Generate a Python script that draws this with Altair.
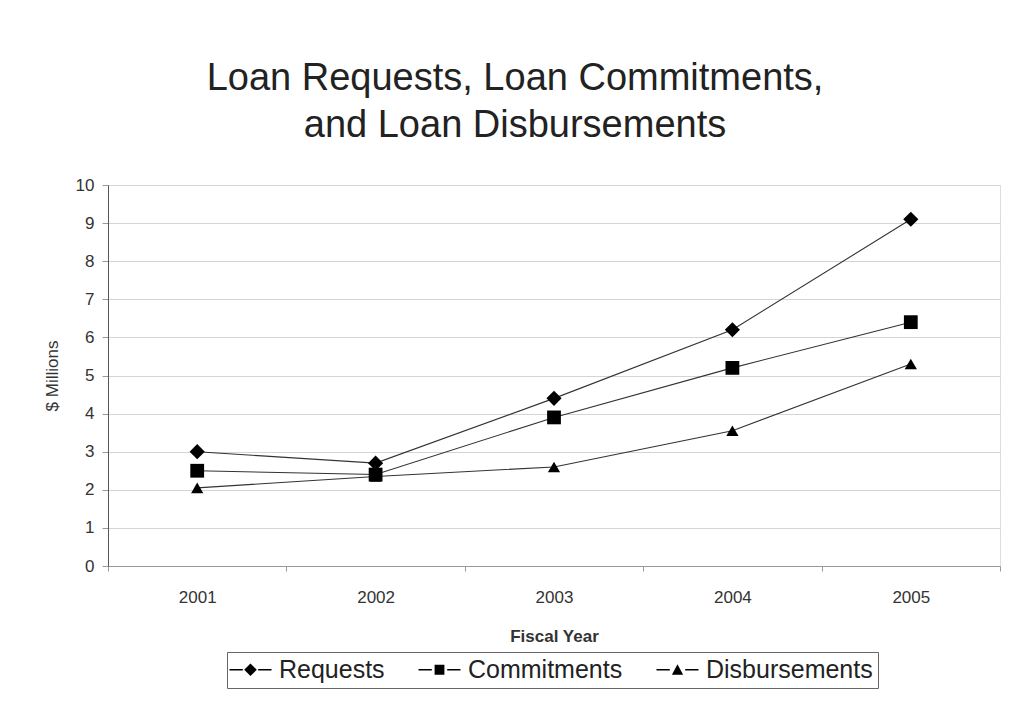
import altair as alt
import pandas as pd

years = ["2001", "2002", "2003", "2004", "2005"]
series_names = ["Requests", "Commitments", "Disbursements"]
requests = [3.0, 2.7, 4.4, 6.2, 9.1]
commitments = [2.5, 2.4, 3.9, 5.2, 6.4]
disbursements = [2.05, 2.35, 2.6, 3.55, 5.3]

rows = []
for name, vals in zip(series_names, [requests, commitments, disbursements]):
    for y, v in zip(years, vals):
        rows.append({"year": y, "series": name, "value": v})
df = pd.DataFrame(rows)

FONT = "Liberation Sans"

# legend symbols: line-marker-line glyphs (dash segments drawn as thin filled bars)
DASHES = "M-3,-0.1L-1.1,-0.1L-1.1,0.1L-3,0.1ZM1.1,-0.1L3,-0.1L3,0.1L1.1,0.1Z"
legend_paths = [
    DASHES + "M0,-0.9L0.9,0L0,0.9L-0.9,0Z",
    DASHES + "M-0.7,-0.7L0.7,-0.7L0.7,0.7L-0.7,0.7Z",
    DASHES + "M0,-0.8L0.8,0.7L-0.8,0.7Z",
]

x_enc = alt.X("year:O", scale=alt.Scale(domain=years, paddingInner=0, paddingOuter=0),
              axis=alt.Axis(title="Fiscal Year", labelAngle=0, tickBand="extent",
                            labelFontSize=17, labelColor="#333", labelFont=FONT,
                            titleFont=FONT, titleFontSize=17, titleFontWeight="bold",
                            titleColor="#333", labelPadding=18, tickSize=5,
                            titlePadding=23, domainColor="#999", tickColor="#999",
                            grid=False))
y_enc = alt.Y("value:Q", scale=alt.Scale(domain=[0, 10], nice=False),
              axis=alt.Axis(title="$ Millions", values=list(range(0, 11)),
                            labelFontSize=17, labelColor="#333", labelFont=FONT,
                            titleFont=FONT, titleFontSize=17, titleFontWeight="normal",
                            titleColor="#333", titlePadding=14, labelPadding=8,
                            tickSize=6, domainColor="#555", tickColor="#999",
                            gridColor="#d4d4d4", gridWidth=1))

lines = alt.Chart(df).mark_line(color="#333", strokeWidth=1.1).encode(
    x=x_enc, y=y_enc, detail="series:N"
)

points = alt.Chart(df).mark_point(filled=True, color="black", opacity=1).encode(
    x=x_enc, y=y_enc,
    shape=alt.Shape("series:N",
                    scale=alt.Scale(domain=series_names,
                                    range=["diamond", "square", "triangle-up"]),
                    legend=None),
    size=alt.Size("series:N",
                  scale=alt.Scale(domain=series_names, range=[230, 150, 170]),
                  legend=None),
)

legend_layer = alt.Chart(df).transform_filter("datum.value < 0").mark_point(
    filled=True, color="black", opacity=1
).encode(
    x=x_enc, y=y_enc,
    shape=alt.Shape("series:N",
                    scale=alt.Scale(domain=series_names, range=legend_paths),
                    legend=alt.Legend(
                        title=None, orient="none", legendX=119, legendY=467,
                        direction="horizontal", strokeColor="#666", padding=5,
                        labelFont=FONT, labelFontSize=25, labelColor="#222",
                        labelLimit=400,
                        symbolSize=196, labelOffset=16, columnPadding=30,
                        symbolOffset=6, symbolFillColor="black",
                        symbolOpacity=1)),
)

chart = alt.layer(lines, points, legend_layer).resolve_scale(
    shape="independent", size="independent"
).properties(
    width=892, height=381,
    autosize=alt.AutoSizeParams(type="none"),
    padding={"left": 108, "top": 185, "right": 9, "bottom": 157},
    title=alt.TitleParams(
        text=["Loan Requests, Loan Commitments,", "and Loan Disbursements"],
        font=FONT, fontSize=38, fontWeight="normal", color="#222",
        anchor="middle", frame="group", dx=-39, offset=31, lineHeight=47),
).configure_view(stroke="#bbb").configure(background="white")

chart.save("out.html", embed_options={"renderer": "svg", "actions": False})
